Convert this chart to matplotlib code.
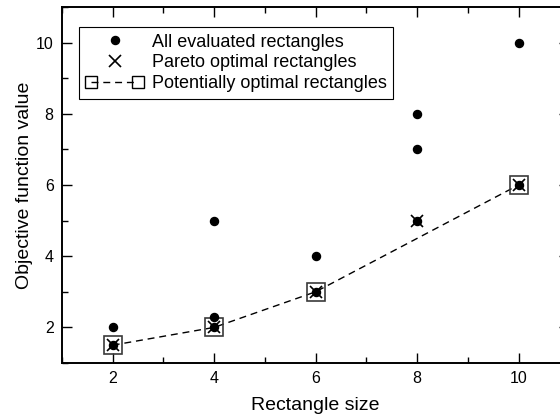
import matplotlib.pyplot as plt
from matplotlib.legend_handler import HandlerLine2D
from matplotlib.ticker import MultipleLocator

# all evaluated rectangles
size_all = [2, 2, 4, 4, 4, 6, 6, 8, 8, 8, 10, 10]
val_all = [2, 1.5, 5, 2.3, 2, 4, 3, 8, 7, 5, 10, 6]

# pareto optimal
size_pareto = [2, 4, 6, 8, 10]
val_pareto = [1.5, 2, 3, 5, 6]

# potentially optimal
size_pot = [2, 4, 6, 10]
val_pot = [1.5, 2, 3, 6]

plt.rcParams["font.family"] = ["Liberation Sans", "DejaVu Sans"]
plt.rcParams["font.size"] = 11.5

fig = plt.figure(figsize=(5.6, 4.15), dpi=100)
ax = fig.add_axes([0.1107, 0.1253, 0.906, 0.858])

ax.plot(size_pot, val_pot, color="black", linestyle=(0, (5, 3.5)), linewidth=1.0,
        marker="s", markersize=13, markerfacecolor="none",
        markeredgecolor="#3a3a3a", markeredgewidth=1.2,
        label="Potentially optimal rectangles", zorder=2)
ax.plot(size_pareto, val_pareto, linestyle="none", marker="x", markersize=9,
        color="black", markeredgewidth=1.2, label="Pareto optimal rectangles", zorder=3)
ax.plot(size_all, val_all, linestyle="none", marker="o", markersize=5.8,
        color="black", label="All evaluated rectangles", zorder=4)

ax.set_xlim(1, 11)
ax.set_ylim(1, 11)
ax.xaxis.set_minor_locator(MultipleLocator(1))
ax.yaxis.set_minor_locator(MultipleLocator(1))
ax.set_xticks([2, 4, 6, 8, 10])
ax.set_yticks([2, 4, 6, 8, 10])
ax.tick_params(which="both", direction="in", top=True, right=True, width=1.0)
ax.tick_params(which="major", length=7, pad=6, labelsize=11.5)
ax.tick_params(which="minor", length=4)
for s in ax.spines.values():
    s.set_linewidth(1.4)

ax.set_xlabel("Rectangle size", fontsize=14, labelpad=8)
ax.set_ylabel("Objective function value", fontsize=14, labelpad=2)

h, l = ax.get_legend_handles_labels()
order = [2, 1, 0]
leg = ax.legend([h[i] for i in order], [l[i] for i in order],
                loc="upper left", bbox_to_anchor=(0.0335, 0.944),
                fancybox=False, edgecolor="black", framealpha=1,
                fontsize=13, borderpad=0.38, labelspacing=0.2,
                handletextpad=0.45, handlelength=3.2, borderaxespad=0,
                handler_map={h[1]: HandlerLine2D(numpoints=1),
                             h[2]: HandlerLine2D(numpoints=1),
                             h[0]: HandlerLine2D(numpoints=2)})
leg.get_frame().set_linewidth(0.8)
for lh in leg.get_lines():
    if lh.get_marker() == "s":
        lh.set_markersize(9)
        lh.set_markeredgecolor("black")
        lh.set_markeredgewidth(1.0)

fig.savefig("out.png", dpi=100)
